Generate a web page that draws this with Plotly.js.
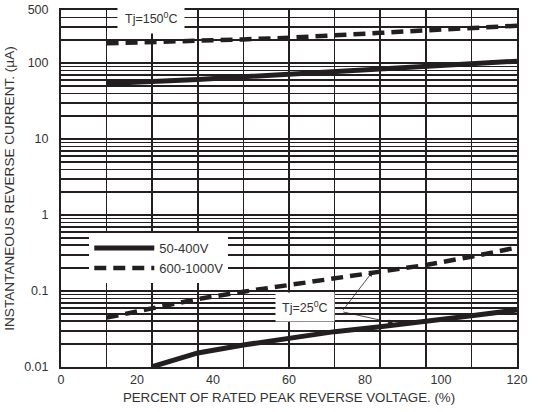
<!DOCTYPE html>
<html>
<head>
<meta charset="utf-8">
<script src="https://cdn.plot.ly/plotly-3.0.1.min.js"></script>
<style>html,body{margin:0;padding:0;background:#fff;}#chart{width:538px;height:412px;}</style>
</head>
<body>
<div id="chart"></div>
<script>
// Percent of rated peak reverse voltage
const xHot = [12, 24, 36, 48, 60, 72, 84, 96, 108, 120];
const xCold = [24, 36, 48, 60, 72, 84, 96, 108, 120];
const xColdDash = [12, 24, 36, 48, 60, 72, 84, 96, 108, 120];
// Tj = 150 C
const hot_50_400 = [54, 57, 61, 66, 71, 77, 84, 91, 98, 106];
const hot_600_1000 = [182, 188, 196, 205, 216, 230, 250, 270, 290, 310];
// Tj = 25 C
const cold_50_400 = [0.0101, 0.0153, 0.0195, 0.0239, 0.0292, 0.0339, 0.0394, 0.0473, 0.0563];
const cold_600_1000 = [0.0446, 0.0598, 0.0785, 0.098, 0.120, 0.148, 0.179, 0.220, 0.283, 0.374];

const seriesNames = ['50-400V', '600-1000V'];
const xTickVals = [0, 20, 40, 60, 80, 100, 120];
const xGridVals = [12, 24, 36, 48, 60, 72, 84, 96, 108];
const yTickVals = [0.01, 0.1, 1, 10, 100, 500];
const yTickText = ['0.01', '0.1', '1', '10', '100', '500'];

const yMinor = [];
[0.01, 0.1, 1, 10, 100].forEach(d => { for (let k = 2; k <= 9; k++) { const v = d * k; if (v < 500) yMinor.push(v); } });

const ink = '#231f20';
const txt = '#333';
const traces = [
  {x: xHot, y: hot_50_400, mode: 'lines', name: seriesNames[0], legendgroup: 'a', showlegend: true,
   line: {color: ink, width: 5}},
  {x: xHot, y: hot_600_1000, mode: 'lines', name: seriesNames[1], legendgroup: 'b', showlegend: true,
   line: {color: ink, width: 4.5, dash: '12px,7px'}},
  {x: xCold, y: cold_50_400, mode: 'lines', name: seriesNames[0], legendgroup: 'a', showlegend: false,
   line: {color: ink, width: 5}},
  {x: xColdDash, y: cold_600_1000, mode: 'lines', name: seriesNames[1], legendgroup: 'b', showlegend: false,
   line: {color: ink, width: 4.5, dash: '12px,7px'}}
];

const L = Math.log10;
const tail = {x: 73.9, y: 0.0535};
const layout = {
  width: 538, height: 412,
  margin: {l: 61, r: 21, t: 10, b: 45},
  paper_bgcolor: '#fff', plot_bgcolor: '#fff',
  font: {family: 'Liberation Sans, Arial, sans-serif', size: 12, color: txt},
  showlegend: true,
  legend: {x: 0.062, y: 0.375, xanchor: 'left', yanchor: 'top', bgcolor: '#fff', borderwidth: 0,
    itemwidth: 60, font: {size: 13, color: txt}, tracegroupgap: 0, traceorder: 'normal'},
  xaxis: {range: [0, 120], tickmode: 'array', tickvals: xTickVals, ticks: '', showgrid: false,
    zeroline: false, showline: true, linecolor: ink, linewidth: 2, mirror: true,
    tickfont: {size: 12.5, color: txt},
    title: {text: 'PERCENT OF RATED PEAK REVERSE VOLTAGE. (%)', font: {size: 13.3, color: txt}, standoff: 7},
    minor: {tickmode: 'array', tickvals: xGridVals, showgrid: true, gridcolor: ink, gridwidth: 1.6, ticks: ''}},
  yaxis: {type: 'log', range: [L(0.01), L(500)], tickmode: 'array', tickvals: yTickVals, ticktext: yTickText,
    ticks: '', showgrid: true, gridcolor: ink, gridwidth: 1.6, zeroline: false, ticklabelstandoff: 8,
    showline: true, linecolor: ink, linewidth: 2, mirror: true,
    tickfont: {size: 12.5, color: txt},
    title: {text: 'INSTANTANEOUS REVERSE CURRENT. (µA)', font: {size: 13.6, color: txt}, standoff: 6},
    minor: {tickmode: 'array', tickvals: yMinor, showgrid: true, gridcolor: ink, gridwidth: 1.6, ticks: ''}},
  annotations: [
    {x: 23.6, y: L(390), xref: 'x', yref: 'y', text: 'Tj=150<sup>0</sup>C', showarrow: false,
     bgcolor: '#fff', borderpad: 7, font: {size: 12.5, color: txt}},
    {x: 64.2, y: L(0.062), xref: 'x', yref: 'y', text: 'Tj=25<sup>0</sup>C', showarrow: false,
     bgcolor: '#fff', borderpad: 6, font: {size: 12.5, color: txt}},
    {x: 82.0, y: L(0.18), xref: 'x', yref: 'y', ax: tail.x, ay: L(tail.y), axref: 'x', ayref: 'y',
     text: '', showarrow: true, arrowhead: 2, arrowsize: 1.2, arrowwidth: 0.8, arrowcolor: ink, standoff: 0},
    {x: 87.4, y: L(0.038), xref: 'x', yref: 'y', ax: tail.x, ay: L(tail.y), axref: 'x', ayref: 'y',
     text: '', showarrow: true, arrowhead: 2, arrowsize: 1.2, arrowwidth: 0.8, arrowcolor: ink, standoff: 0}
  ]
};

Plotly.newPlot('chart', traces, layout, {displayModeBar: false, staticPlot: true});
</script>
</body>
</html>
